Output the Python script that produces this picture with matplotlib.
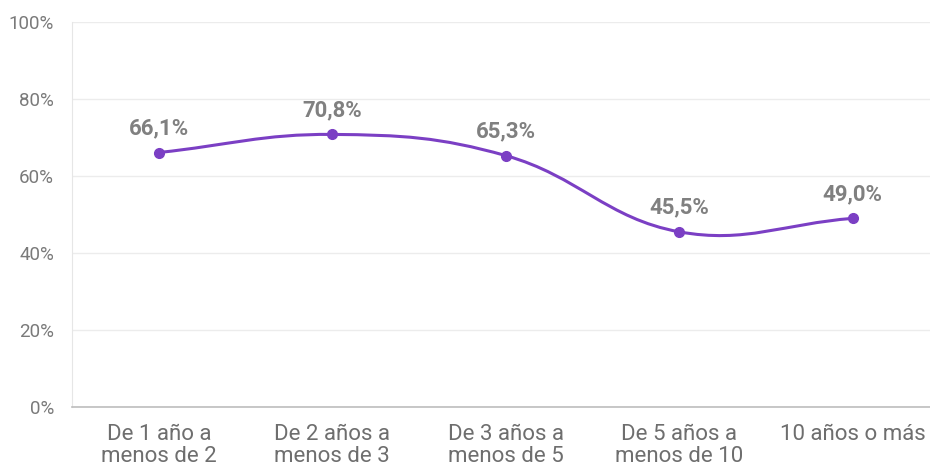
import numpy as np
import matplotlib
matplotlib.use("Agg")
import matplotlib.pyplot as plt
from matplotlib.path import Path
from matplotlib.patches import PathPatch

plt.rcParams["font.family"] = ["Roboto", "DejaVu Sans"]

categories = ["De 1 año a\nmenos de 2", "De 2 años a\nmenos de 3", "De 3 años a\nmenos de 5",
              "De 5 años a\nmenos de 10", "10 años o más"]
values = [66.1, 70.8, 65.3, 45.5, 49.0]
labels = ["66,1%", "70,8%", "65,3%", "45,5%", "49,0%"]
yticks = [0, 20, 40, 60, 80, 100]

LINE = "#7B3FC4"
GRID = "#ececec"
TXT = "#7a7a7a"

fig = plt.figure(figsize=(9.3, 4.67), dpi=100)
ax = fig.add_axes([72 / 930, 1 - 407 / 467, 1 - 72 / 930, (407 - 22) / 467])
ax.set_xlim(-0.5, 4.445)
ax.set_ylim(0, 100)

# smooth line (spline with tension, computed in pixel space)
x = np.arange(len(values), dtype=float)
pts = ax.transData.transform(np.column_stack([x, values]))
tension = 0.4
n = len(pts)
cp_prev, cp_next = [], []
for i in range(n):
    prev = pts[i - 1] if i > 0 else pts[i]
    nxt = pts[i + 1] if i < n - 1 else pts[i]
    d01 = np.hypot(*(pts[i] - prev))
    d12 = np.hypot(*(nxt - pts[i]))
    tot = d01 + d12
    s01 = d01 / tot if tot else 0
    s12 = d12 / tot if tot else 0
    cp_prev.append(pts[i] - tension * s01 * (nxt - prev))
    cp_next.append(pts[i] + tension * s12 * (nxt - prev))
verts = [pts[0]]
codes = [Path.MOVETO]
for i in range(1, n):
    verts += [cp_next[i - 1], cp_prev[i], pts[i]]
    codes += [Path.CURVE4] * 3
verts = ax.transData.inverted().transform(np.array(verts))
ax.add_patch(PathPatch(Path(verts, codes), fill=False, edgecolor=LINE, lw=2.2, zorder=3))
ax.plot(x, values, "o", color=LINE, ms=7, zorder=4)

for xi, v, lab in zip(x, values, labels):
    ax.annotate(lab, (xi, v), xytext=(0, 9.5), textcoords="offset points",
                ha="center", va="bottom", fontsize=16, fontweight="bold", color="#808080")

ax.set_yticks(yticks)
ax.set_yticklabels([f"{t}%" for t in yticks])
ax.set_xticks(x)
ax.set_xticklabels(categories, linespacing=1.05)
ax.tick_params(axis="y", length=0, pad=13, labelsize=13.5, labelcolor=TXT)
ax.tick_params(axis="x", length=0, pad=12.5, labelsize=16, labelcolor="#6e6e6e")
ax.grid(axis="y", color=GRID, lw=1)
ax.set_axisbelow(True)
for s in ["top", "right"]:
    ax.spines[s].set_visible(False)
ax.spines["left"].set_color("#e6e6e6")
ax.spines["bottom"].set_color("#bdbdbd")
ax.spines["bottom"].set_linewidth(1.2)

fig.savefig("out.png", dpi=100)
